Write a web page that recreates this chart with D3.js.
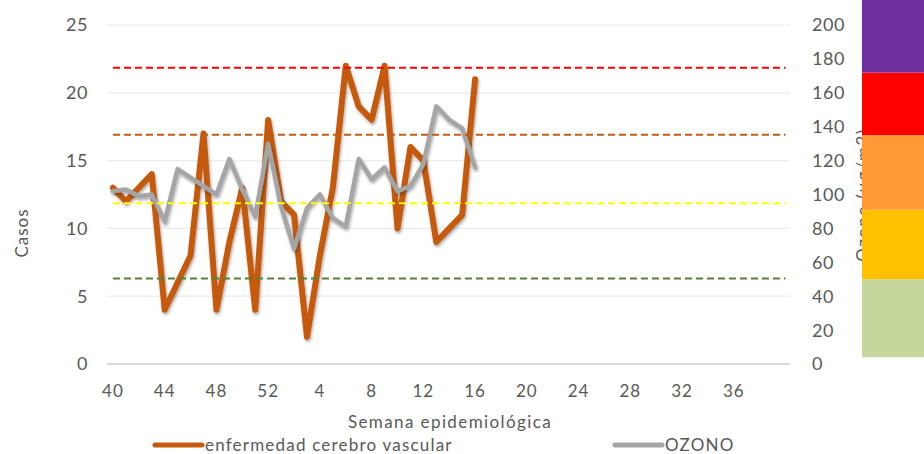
<!DOCTYPE html>
<html>
<head>
<meta charset="utf-8">
<script src="https://cdn.jsdelivr.net/npm/d3@7"></script>
<style>
  body { margin: 0; background: #fff; }
  text { font-family: Lato, "Open Sans", sans-serif; fill: #595959; }
</style>
</head>
<body>
<div id="chart"></div>
<script>
// weeks 40..52 then 1..40
var weeks = d3.range(40, 53).concat(d3.range(1, 41));
var casos = [13,12,13,14,4,6,8,17,4,9,13,4,18,12,11,2,8,13,22,19,18,22,10,16,15,9,10,11,21];
var ozono = [102,103,99,100,84,115,110,105,100,121,103,87,130,93,68,92,100,86,81,121,109,116,102,105,118,152,144,139,116];
// threshold lines (casos)
var umbrales = [
  {valor: 21.85, color: "#ff0000"},
  {valor: 16.9,  color: "#c55a11"},
  {valor: 11.85, color: "#ffff00"},
  {valor: 6.3,   color: "#548235"}
];
// colour bar bands in ozone units
var bandas = [
  {desde: 4,   hasta: 50,  color: "#c5d79c"},
  {desde: 50,  hasta: 91,  color: "#ffc000"},
  {desde: 91,  hasta: 135, color: "#ff9933"},
  {desde: 135, hasta: 172, color: "#ff0000"},
  {desde: 172, hasta: 215, color: "#7030a0"}
];
var yTicks = [0,5,10,15,20,25];
var y2Ticks = d3.range(0, 201, 20);

var width = 924, height = 454;

var svg = d3.select("#chart").append("svg")
  .attr("width", width)
  .attr("height", height);

var defs = svg.append("defs");
var f = defs.append("filter").attr("id", "sombra")
  .attr("x", "-5%").attr("y", "-5%").attr("width", "110%").attr("height", "120%");
f.append("feDropShadow")
  .attr("dx", 1).attr("dy", 2).attr("stdDeviation", 1.5)
  .attr("flood-color", "#000").attr("flood-opacity", 0.35);

var x = d3.scalePoint()
  .domain(d3.range(weeks.length))
  .range([106.5, 792])
  .padding(0.5);
var y = d3.scaleLinear().domain([0, 25]).range([364, 25]);
var y2 = d3.scaleLinear().domain([0, 200]).range([364, 25]);

// gridlines
svg.selectAll(".grid")
  .data(yTicks.slice(1))
  .enter().append("line")
  .attr("x1", 107).attr("x2", 790)
  .attr("y1", function(d){return y(d);})
  .attr("y2", function(d){return y(d);})
  .attr("stroke", "#ececec")
  .attr("stroke-width", 1.2);

svg.append("line")
  .attr("x1", 107).attr("x2", 790)
  .attr("y1", y(0)).attr("y2", y(0))
  .attr("stroke", "#d9d9d9")
  .attr("stroke-width", 2);

// left axis labels
svg.selectAll(".ylab")
  .data(yTicks)
  .enter().append("text")
  .attr("x", 88)
  .attr("y", function(d){return y(d);})
  .attr("dy", "0.36em")
  .attr("text-anchor", "end")
  .attr("font-size", "18px")
  .attr("letter-spacing", "0.5px")
  .text(function(d){return d;});

// right axis labels
svg.selectAll(".y2lab")
  .data(y2Ticks)
  .enter().append("text")
  .attr("x", 812)
  .attr("y", function(d){return y2(d);})
  .attr("dy", "0.36em")
  .attr("font-size", "18px")
  .attr("letter-spacing", "0.5px")
  .text(function(d){return d;});

// x labels every 4 weeks
svg.selectAll(".xlab")
  .data(d3.range(0, 52, 4))
  .enter().append("text")
  .attr("x", function(i){return x(i);})
  .attr("y", 391)
  .attr("dy", "0.36em")
  .attr("text-anchor", "middle")
  .attr("font-size", "17px")
  .attr("letter-spacing", "1px")
  .text(function(i){return weeks[i];});

svg.append("text")
  .attr("x", 450).attr("y", 422)
  .attr("dy", "0.36em")
  .attr("text-anchor", "middle")
  .attr("font-size", "17px")
  .attr("letter-spacing", "1.4px")
  .text("Semana epidemiológica");

svg.append("text")
  .attr("transform", "translate(22,233) rotate(-90)")
  .attr("dy", "0.36em")
  .attr("text-anchor", "middle")
  .attr("font-size", "17px")
  .attr("letter-spacing", "1px")
  .text("Casos");

// right axis title (mostly hidden behind the colour bar)
svg.append("text")
  .attr("transform", "translate(869,195) rotate(-90)")
  .attr("text-anchor", "middle")
  .attr("font-size", "17px")
  .attr("letter-spacing", "1.5px")
  .text("Ozono (µg/m3)");

// series
var lineCasos = d3.line()
  .x(function(d, i){return x(i);})
  .y(function(d){return y(d);});
var lineOzono = d3.line()
  .x(function(d, i){return x(i);})
  .y(function(d){return y2(d);});

svg.append("path")
  .attr("d", lineCasos(casos))
  .attr("fill", "none")
  .attr("stroke", "#c55a11")
  .attr("stroke-width", 6)
  .attr("stroke-linejoin", "round")
  .attr("stroke-linecap", "round")
  .attr("filter", "url(#sombra)");

svg.append("path")
  .attr("d", lineOzono(ozono))
  .attr("fill", "none")
  .attr("stroke", "#a5a5a5")
  .attr("stroke-width", 4.5)
  .attr("stroke-linejoin", "round")
  .attr("stroke-linecap", "round")
  .attr("filter", "url(#sombra)");

// threshold dashed lines
svg.selectAll(".umbral")
  .data(umbrales)
  .enter().append("line")
  .attr("x1", x(0)).attr("x2", x(weeks.length - 1))
  .attr("y1", function(d){return y(d.valor);})
  .attr("y2", function(d){return y(d.valor);})
  .attr("stroke", function(d){return d.color;})
  .attr("stroke-width", 2)
  .attr("stroke-dasharray", "7,4");

// colour bar
svg.selectAll(".banda")
  .data(bandas)
  .enter().append("rect")
  .attr("x", 862)
  .attr("width", 62)
  .attr("y", function(d){return y2(d.hasta);})
  .attr("height", function(d){return y2(d.desde) - y2(d.hasta);})
  .attr("fill", function(d){return d.color;});

// legend
var legend = [
  {nombre: "enfermedad cerebro vascular", color: "#c55a11", x: 155},
  {nombre: "OZONO", color: "#a5a5a5", x: 615}
];
var lg = svg.selectAll(".leg")
  .data(legend)
  .enter().append("g")
  .attr("transform", function(d){return "translate(" + d.x + ",445)";});
lg.append("line")
  .attr("x1", 0).attr("x2", 47)
  .attr("stroke", function(d){return d.color;})
  .attr("stroke-width", 5)
  .attr("stroke-linecap", "round");
lg.append("text")
  .attr("x", 50)
  .attr("dy", "0.36em")
  .attr("font-size", "17px")
  .attr("letter-spacing", "1.2px")
  .text(function(d){return d.nombre;});
</script>
</body>
</html>
